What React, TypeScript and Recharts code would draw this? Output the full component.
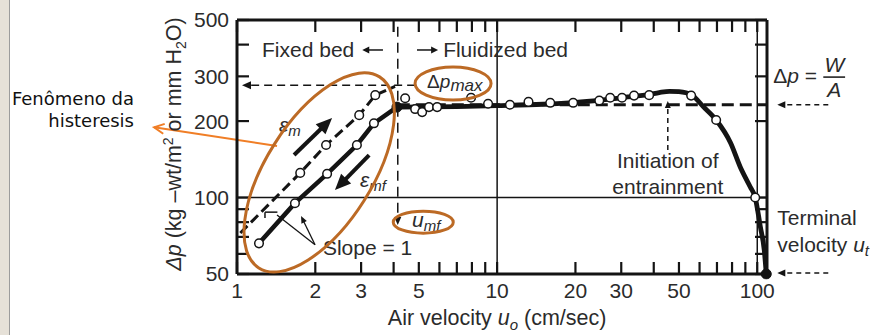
import type { ReactNode } from "react";
import { ComposedChart, Line, ReferenceDot, ReferenceLine, XAxis, YAxis } from "recharts";

const font = "'Liberation Sans', Arial, Helvetica, sans-serif";
const ink = "#141414";
const txt = "#2b2b2b";
const brown = "#BC6A25";
const orange = "#F07E26";

// eixos log-log
const xDomain: [number, number] = [1, 109];
const yDomain: [number, number] = [50, 500];
const xTicks = [1, 2, 3, 4, 5, 6, 7, 8, 9, 10, 20, 30, 40, 50, 60, 70, 80, 90, 100];
const xLabels = [1, 2, 3, 5, 10, 20, 30, 50, 100];
const yTicks = [50, 60, 70, 80, 90, 100, 200, 300, 400, 500];
const yLabels = [50, 100, 200, 300, 500];

// ε_m: leito fixo, vazão crescente (tracejado)
const upU = [1.03, 1.75, 2.2, 2.95, 3.4, 4.05];
const upDp = [72.5, 125, 161, 211, 253, 274];
// ε_mf: vazão decrescente (linha cheia)
const downU = [1.215, 1.67, 2.22, 2.89, 3.36, 4.12];
const downDp = [66, 95, 124, 161, 196, 227];
// curva do leito fluidizado até o arraste
const bedU = [4.12, 7, 10, 15, 20, 25, 30, 34, 38, 42, 46, 50, 56, 62, 69.5, 79, 86, 94, 98.2, 102.7, 106.4, 108.3];
const bedDp = [227, 228, 230, 233, 237, 242, 247, 251, 254, 259, 262, 261, 253, 228, 202, 164, 132, 110, 100, 77, 62, 50];
// pontos medidos acima de u_mf
const flU = [4.43, 4.84, 5.15, 5.47, 5.88, 7.94, 9.23, 11.2, 13.2, 16.0, 19.6, 24.7, 27.2, 30.2, 33.6, 38.4, 55.7, 69.5, 98.2];
const flDp = [246, 223, 217, 227, 227, 247, 234, 232, 238, 236, 236, 241, 247, 247, 252, 253, 252, 202, 100];

const uMf = 4.15;
const dpMax = 277;
const dpWA = 232;
const uT = 108.3;
const uEntrain = 45.3;

const pts = (us: number[], ds: number[]) => us.map((u, i) => ({ u, dp: ds[i] }));

const openDot = { r: 4.3, fill: "#fff", stroke: ink, strokeWidth: 1.5, clipDot: false };
const solidDot = { r: 5, fill: ink, stroke: ink, strokeWidth: 1, clipDot: false };

type ArrowOpts = { color?: string; width?: number; dash?: string; head?: number; half?: number; open?: boolean };

function drawArrow(p: any, o: ArrowOpts) {
  const { x1, y1, x2, y2 } = p;
  const color = o.color ?? ink;
  const w = o.width ?? 1.5;
  const head = o.head ?? 0;
  const half = o.half ?? head * 0.45;
  const dx = x2 - x1;
  const dy = y2 - y1;
  const len = Math.hypot(dx, dy) || 1;
  const ux = dx / len;
  const uy = dy / len;
  const bx = x2 - ux * head;
  const by = y2 - uy * head;
  const nx = -uy * half;
  const ny = ux * half;
  const ex = head && !o.open ? bx + ux : x2;
  const ey = head && !o.open ? by + uy : y2;
  return (
    <g>
      <line x1={x1} y1={y1} x2={ex} y2={ey} stroke={color} strokeWidth={w} strokeDasharray={o.dash} />
      {head > 0 &&
        (o.open ? (
          <polyline
            points={`${bx + nx},${by + ny} ${x2},${y2} ${bx - nx},${by - ny}`}
            fill="none"
            stroke={color}
            strokeWidth={w}
          />
        ) : (
          <polygon points={`${x2},${y2} ${bx + nx},${by + ny} ${bx - nx},${by - ny}`} fill={color} />
        ))}
    </g>
  );
}

const arrow = (a: [number, number], b: [number, number], o: ArrowOpts = {}, key?: string) => (
  <ReferenceLine
    key={key}
    segment={[
      { x: a[0], y: a[1] },
      { x: b[0], y: b[1] },
    ]}
    ifOverflow="visible"
    shape={(p: any) => drawArrow(p, o)}
  />
);

const note = (u: number, dp: number, body: ReactNode, anchor: "start" | "middle" | "end" = "start", size = 21) => (
  <ReferenceDot
    x={u}
    y={dp}
    r={0}
    ifOverflow="visible"
    shape={(p: any) => (
      <text x={p.cx} y={p.cy} textAnchor={anchor} fontSize={size} fontFamily={font} fill={txt}>
        {body}
      </text>
    )}
  />
);

const ring = (u: number, dp: number, rx: number, ry: number, angle = 0) => (
  <ReferenceDot
    x={u}
    y={dp}
    r={0}
    ifOverflow="visible"
    shape={(p: any) => (
      <ellipse
        cx={p.cx}
        cy={p.cy}
        rx={rx}
        ry={ry}
        transform={`rotate(${angle} ${p.cx} ${p.cy})`}
        fill="none"
        stroke={brown}
        strokeWidth={3}
      />
    )}
  />
);

// marcas internas dos eixos: comprimento em fração de década
const tickX = 1.112; // ~12 px no eixo x
const tickY = 1.115; // ~12 px no eixo y
const tickOpts: ArrowOpts = { width: 2.2, color: ink };

const tickStyle = { fontSize: 21, fill: txt, fontFamily: font };
const axisLine = { stroke: ink, strokeWidth: 3 };

export default function App() {
  const ticks = [
    ...xTicks.map((v) => arrow([v, yDomain[0]], [v, yDomain[0] * tickY], tickOpts, `b${v}`)),
    ...xTicks.map((v) => arrow([v, yDomain[1]], [v, yDomain[1] / tickY], tickOpts, `t${v}`)),
    ...yTicks.map((v) => arrow([xDomain[0], v], [xDomain[0] * tickX, v], tickOpts, `l${v}`)),
    ...yTicks.map((v) => arrow([xDomain[1], v], [xDomain[1] / tickX, v], tickOpts, `r${v}`)),
  ];
  return (
    <div style={{ position: "absolute", left: 0, top: 0, width: 875, height: 335, background: "#fff", overflow: "hidden" }}>
      <div
        style={{
          position: "absolute",
          left: 0,
          top: 0,
          width: 9,
          height: 335,
          background: "#E6E1D8",
          borderRight: "1px solid #9c9c9c",
        }}
      />
      <ComposedChart width={875} height={335} margin={{ top: 20, right: 108, bottom: 21, left: 177 }}>
        <XAxis
          dataKey="u"
          type="number"
          scale="log"
          domain={xDomain}
          allowDataOverflow
          ticks={xTicks}
          interval={0}
          tickFormatter={(v: number) => (xLabels.includes(v) ? String(v) : "")}
          tickSize={0}
          tickMargin={9}
          height={40}
          axisLine={axisLine}
          tickLine={false}
          tick={tickStyle}
        />
        <YAxis
          type="number"
          scale="log"
          domain={yDomain}
          allowDataOverflow
          ticks={yTicks}
          interval={0}
          tickFormatter={(v: number) => (yLabels.includes(v) ? String(v) : "")}
          tickSize={0}
          tickMargin={8}
          width={60}
          axisLine={axisLine}
          tickLine={false}
          tick={tickStyle}
        />

        <ReferenceLine y={yDomain[1]} stroke={ink} strokeWidth={3} />
        <ReferenceLine x={xDomain[1]} stroke={ink} strokeWidth={3} />
        {ticks}

        <ReferenceLine x={10} stroke={ink} strokeWidth={1.5} />
        <ReferenceLine x={100} stroke={ink} strokeWidth={1.5} />
        <ReferenceLine y={100} stroke={ink} strokeWidth={1.5} />

        {/* linhas de referência tracejadas */}
        {arrow([uMf, dpWA], [xDomain[1], dpWA], { width: 3, dash: "12 6" })}
        {arrow([4.84, dpMax], [1.045, dpMax], { width: 1.5, dash: "8 5", head: 9, half: 4 })}
        {arrow([uMf, 470], [uMf, 78], { width: 1.5, dash: "10 6", head: 8, half: 3.5 })}
        {arrow([uEntrain, 154], [uEntrain, 240], { width: 1.5, dash: "5 4", head: 7, half: 3 })}
        {arrow([187.5, dpWA], [119.4, dpWA], { width: 1.5, dash: "5 4", head: 8, half: 3.5 })}
        {arrow([187.5, 50.5], [119.4, 50.5], { width: 1.5, dash: "5 4", head: 8, half: 3.5 })}

        <Line data={pts(upU, upDp)} dataKey="dp" type="linear" stroke={ink} strokeWidth={3} strokeDasharray="10 5" dot={false} isAnimationActive={false} />
        <Line data={pts(downU, downDp)} dataKey="dp" type="linear" stroke={ink} strokeWidth={4.5} dot={false} isAnimationActive={false} />
        <Line data={pts(bedU, bedDp)} dataKey="dp" type="monotone" stroke={ink} strokeWidth={4.8} dot={false} isAnimationActive={false} />
        <Line data={pts(upU.slice(1, -1), upDp.slice(1, -1))} dataKey="dp" stroke="none" dot={openDot} isAnimationActive={false} />
        <Line data={pts(downU.slice(0, -1), downDp.slice(0, -1))} dataKey="dp" stroke="none" dot={openDot} isAnimationActive={false} />
        <Line data={pts(flU, flDp)} dataKey="dp" stroke="none" dot={openDot} isAnimationActive={false} />
        <Line
          data={pts([downU[downU.length - 1], uT], [downDp[downDp.length - 1], 50])}
          dataKey="dp"
          stroke="none"
          dot={solidDot}
          isAnimationActive={false}
        />

        {/* setas e textos */}
        {arrow([3.64, 381], [3.03, 381], { width: 1.5, head: 7, half: 3.5 })}
        {arrow([4.92, 381], [5.93, 381], { width: 1.5, head: 7, half: 3.5 })}
        {note(1.248, 357, "Fixed bed")}
        {note(6.2, 357, "Fluidized bed")}
        {arrow([1.657, 147], [2.32, 205.6], { width: 4, head: 16, half: 7 })}
        {arrow([3.22, 147], [2.38, 107], { width: 4, head: 16, half: 7 })}
        {note(1.45, 181, <><tspan fontStyle="italic">ε</tspan><tspan fontStyle="italic" fontSize={15} dy={4}>m</tspan></>)}
        {note(2.97, 110, <><tspan fontStyle="italic">ε</tspan><tspan fontStyle="italic" fontSize={15} dy={4}>mf</tspan></>)}
        {arrow([1.995, 65.2], [1.425, 85.3], { width: 1.3 })}
        {arrow([1.995, 65.2], [1.763, 84.5], { width: 1.3, head: 7, half: 3 })}
        {arrow([1.281, 87.6], [1.43, 87.6], { width: 1.5 })}
        {arrow([1.281, 87.6], [1.281, 83], { width: 1.5 })}
        {note(2.14, 59.4, "Slope = 1")}
        {note(4.71, 76.4, <><tspan fontStyle="italic">u</tspan><tspan fontStyle="italic" fontSize={15} dy={4}>mf</tspan></>)}
        {note(5.38, 270, <><tspan>Δ</tspan><tspan fontStyle="italic">p</tspan><tspan fontStyle="italic" fontSize={17} dy={3}>max</tspan></>, "start", 19)}
        {note(uEntrain, 131, "Initiation of", "middle")}
        {note(uEntrain, 103, "entrainment", "middle")}
        {note(115.2, 282, <><tspan>Δ</tspan><tspan fontStyle="italic">p</tspan><tspan> =</tspan></>)}
        {note(197.8, 312, <tspan fontStyle="italic">W</tspan>, "middle")}
        {arrow([179.4, 298], [217.6, 298], { width: 1.5 })}
        {note(197.8, 249, <tspan fontStyle="italic">A</tspan>, "middle")}
        {note(119.4, 78, "Terminal")}
        {note(119.4, 61, <><tspan>velocity </tspan><tspan fontStyle="italic">u</tspan><tspan fontStyle="italic" fontSize={15} dy={4}>t</tspan></>)}

        {/* títulos dos eixos */}
        {note(10, 31.6, <><tspan>Air velocity </tspan><tspan fontStyle="italic">u</tspan><tspan fontStyle="italic" fontSize={15} dy={5}>o</tspan><tspan dy={-5}> (cm/sec)</tspan></>, "middle", 21.5)}
        <ReferenceDot
          x={0.609}
          y={162.5}
          r={0}
          ifOverflow="visible"
          shape={(p: any) => (
            <text
              x={p.cx}
              y={p.cy}
              transform={`rotate(-90 ${p.cx} ${p.cy})`}
              textAnchor="middle"
              fontSize={21.5}
              fontFamily={font}
              fill={txt}
            >
              <tspan fontStyle="italic">Δp</tspan>
              <tspan> (kg –wt/m</tspan>
              <tspan dy={-8} fontSize={14}>2</tspan>
              <tspan dy={8}> or mm H</tspan>
              <tspan dy={5} fontSize={14}>2</tspan>
              <tspan dy={-5}>O)</tspan>
            </text>
          )}
        />

        {/* marcações em laranja */}
        {ring(2.07, 125.6, 113, 53, -57.7)}
        {ring(6.77, 281, 38, 16.5)}
        {ring(5.2, 80, 30, 11)}
        {arrow([1.425, 159.6], [0.48, 189], { color: orange, width: 2, head: 10, half: 5, open: true })}
      </ComposedChart>
      <div
        style={{
          position: "absolute",
          left: 0,
          top: 88,
          width: 134,
          textAlign: "right",
          fontFamily: "'DejaVu Sans', Verdana, sans-serif",
          fontSize: 18,
          lineHeight: "22px",
          color: "#111",
        }}
      >
        Fenômeno da
        <br />
        histeresis
      </div>
    </div>
  );
}
